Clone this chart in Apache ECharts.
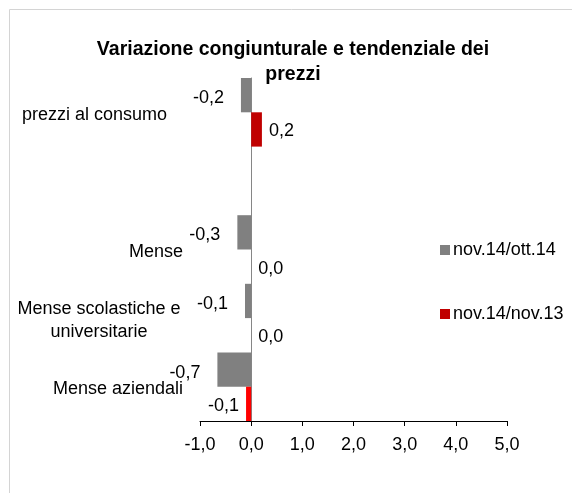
<!DOCTYPE html>
<html>
<head>
<meta charset="utf-8">
<script src="https://cdn.jsdelivr.net/npm/echarts@6/dist/echarts.min.js"></script>
<style>
html,body{margin:0;padding:0;background:#fff;}
#c{width:572px;height:493px;}
</style>
</head>
<body>
<div id="c"></div>
<script>
const categories = ['prezzi al consumo', '', 'Mense', 'Mense scolastiche e\nuniversitarie', 'Mense aziendali'];
const seriesNames = ['nov.14/ott.14', 'nov.14/nov.13'];
const congiunturale = [-0.2, null, -0.27, -0.12, -0.66];
const tendenziale = [0.21, null, 0.0, 0.0, -0.1];
const xTicks = { min: -1, max: 5, interval: 1 };

const fmt = v => v.toFixed(1).replace('.', ',');
const FONT = 'Liberation Sans, Arial, sans-serif';

function build(values, dist, colorOverride) {
  return values.map((v, i) => {
    if (v === null) return { value: null };
    const item = { value: v, label: { position: v < 0 ? 'left' : 'right', distance: dist } };
    if (colorOverride && colorOverride[i]) item.itemStyle = { color: colorOverride[i] };
    return item;
  });
}

const chart = echarts.init(document.getElementById('c'), null, { renderer: 'canvas' });
chart.setOption({
  animation: false,
  backgroundColor: '#fff',
  graphic: [{
    type: 'rect', shape: { x: 9.5, y: 9.5, width: 800, height: 800 },
    style: { fill: 'none', stroke: '#d4d4d4', lineWidth: 1 }, silent: true, z: -10
  }],
  title: {
    text: 'Variazione congiunturale e tendenziale dei\nprezzi',
    left: 288, top: 32, textAlign: 'center',
    textStyle: { fontFamily: FONT, fontSize: 19.5, fontWeight: 'bold', color: '#000', lineHeight: 25 }
  },
  legend: {
    orient: 'vertical', left: 435, top: 236, itemGap: 46,
    itemWidth: 10, itemHeight: 10, icon: 'rect',
    textStyle: { fontFamily: FONT, fontSize: 18, color: '#000', padding: [0, 0, 0, -2] },
    data: seriesNames
  },
  grid: { left: 200, right: 65, top: 78, bottom: 72, containLabel: false, outerBoundsMode: 'none' },
  xAxis: {
    type: 'value', min: xTicks.min, max: xTicks.max, interval: xTicks.interval,
    axisLine: { show: true, lineStyle: { color: '#000', width: 1 } },
    axisTick: { show: true, length: 5, lineStyle: { color: '#000' } },
    splitLine: { show: false },
    axisLabel: { fontFamily: FONT, fontSize: 18, color: '#000', margin: 15, formatter: v => fmt(v) }
  },
  yAxis: {
    type: 'category', inverse: true, data: categories,
    axisLine: { show: true, onZero: true, lineStyle: { color: '#868686', width: 1 } },
    axisTick: { show: false },
    axisLabel: {
      margin: 17, fontFamily: FONT, fontSize: 18, color: '#000', lineHeight: 23,
      padding: [5, 0, 0, 0],
      formatter: (v, i) => {
        if (v.indexOf('\n') >= 0) return v.split('\n').map(s => '{c|' + s + '}').join('\n');
        if (i === 0) return '{p|' + v + '}';
        return v;
      },
      rich: {
        c: { width: 168, align: 'center', fontFamily: FONT, fontSize: 18, color: '#000', lineHeight: 23 },
        p: { padding: [0, 16, 0, 0], fontFamily: FONT, fontSize: 18, color: '#000' }
      }
    }
  },
  series: [
    {
      name: seriesNames[0], type: 'bar', barGap: '0%', barCategoryGap: '0%',
      itemStyle: { color: '#808080' },
      label: { show: true, offset: [0, 3], fontFamily: FONT, fontSize: 18, color: '#000', formatter: p => fmt(p.value) },
      data: build(congiunturale, 17)
    },
    {
      name: seriesNames[1], type: 'bar', barGap: '0%', barCategoryGap: '0%',
      itemStyle: { color: '#c00000' },
      label: { show: true, offset: [0, 2], fontFamily: FONT, fontSize: 18, color: '#000', formatter: p => fmt(p.value) },
      data: build(tendenziale, 7, { 4: '#ff0000' })
    }
  ]
});
</script>
</body>
</html>
